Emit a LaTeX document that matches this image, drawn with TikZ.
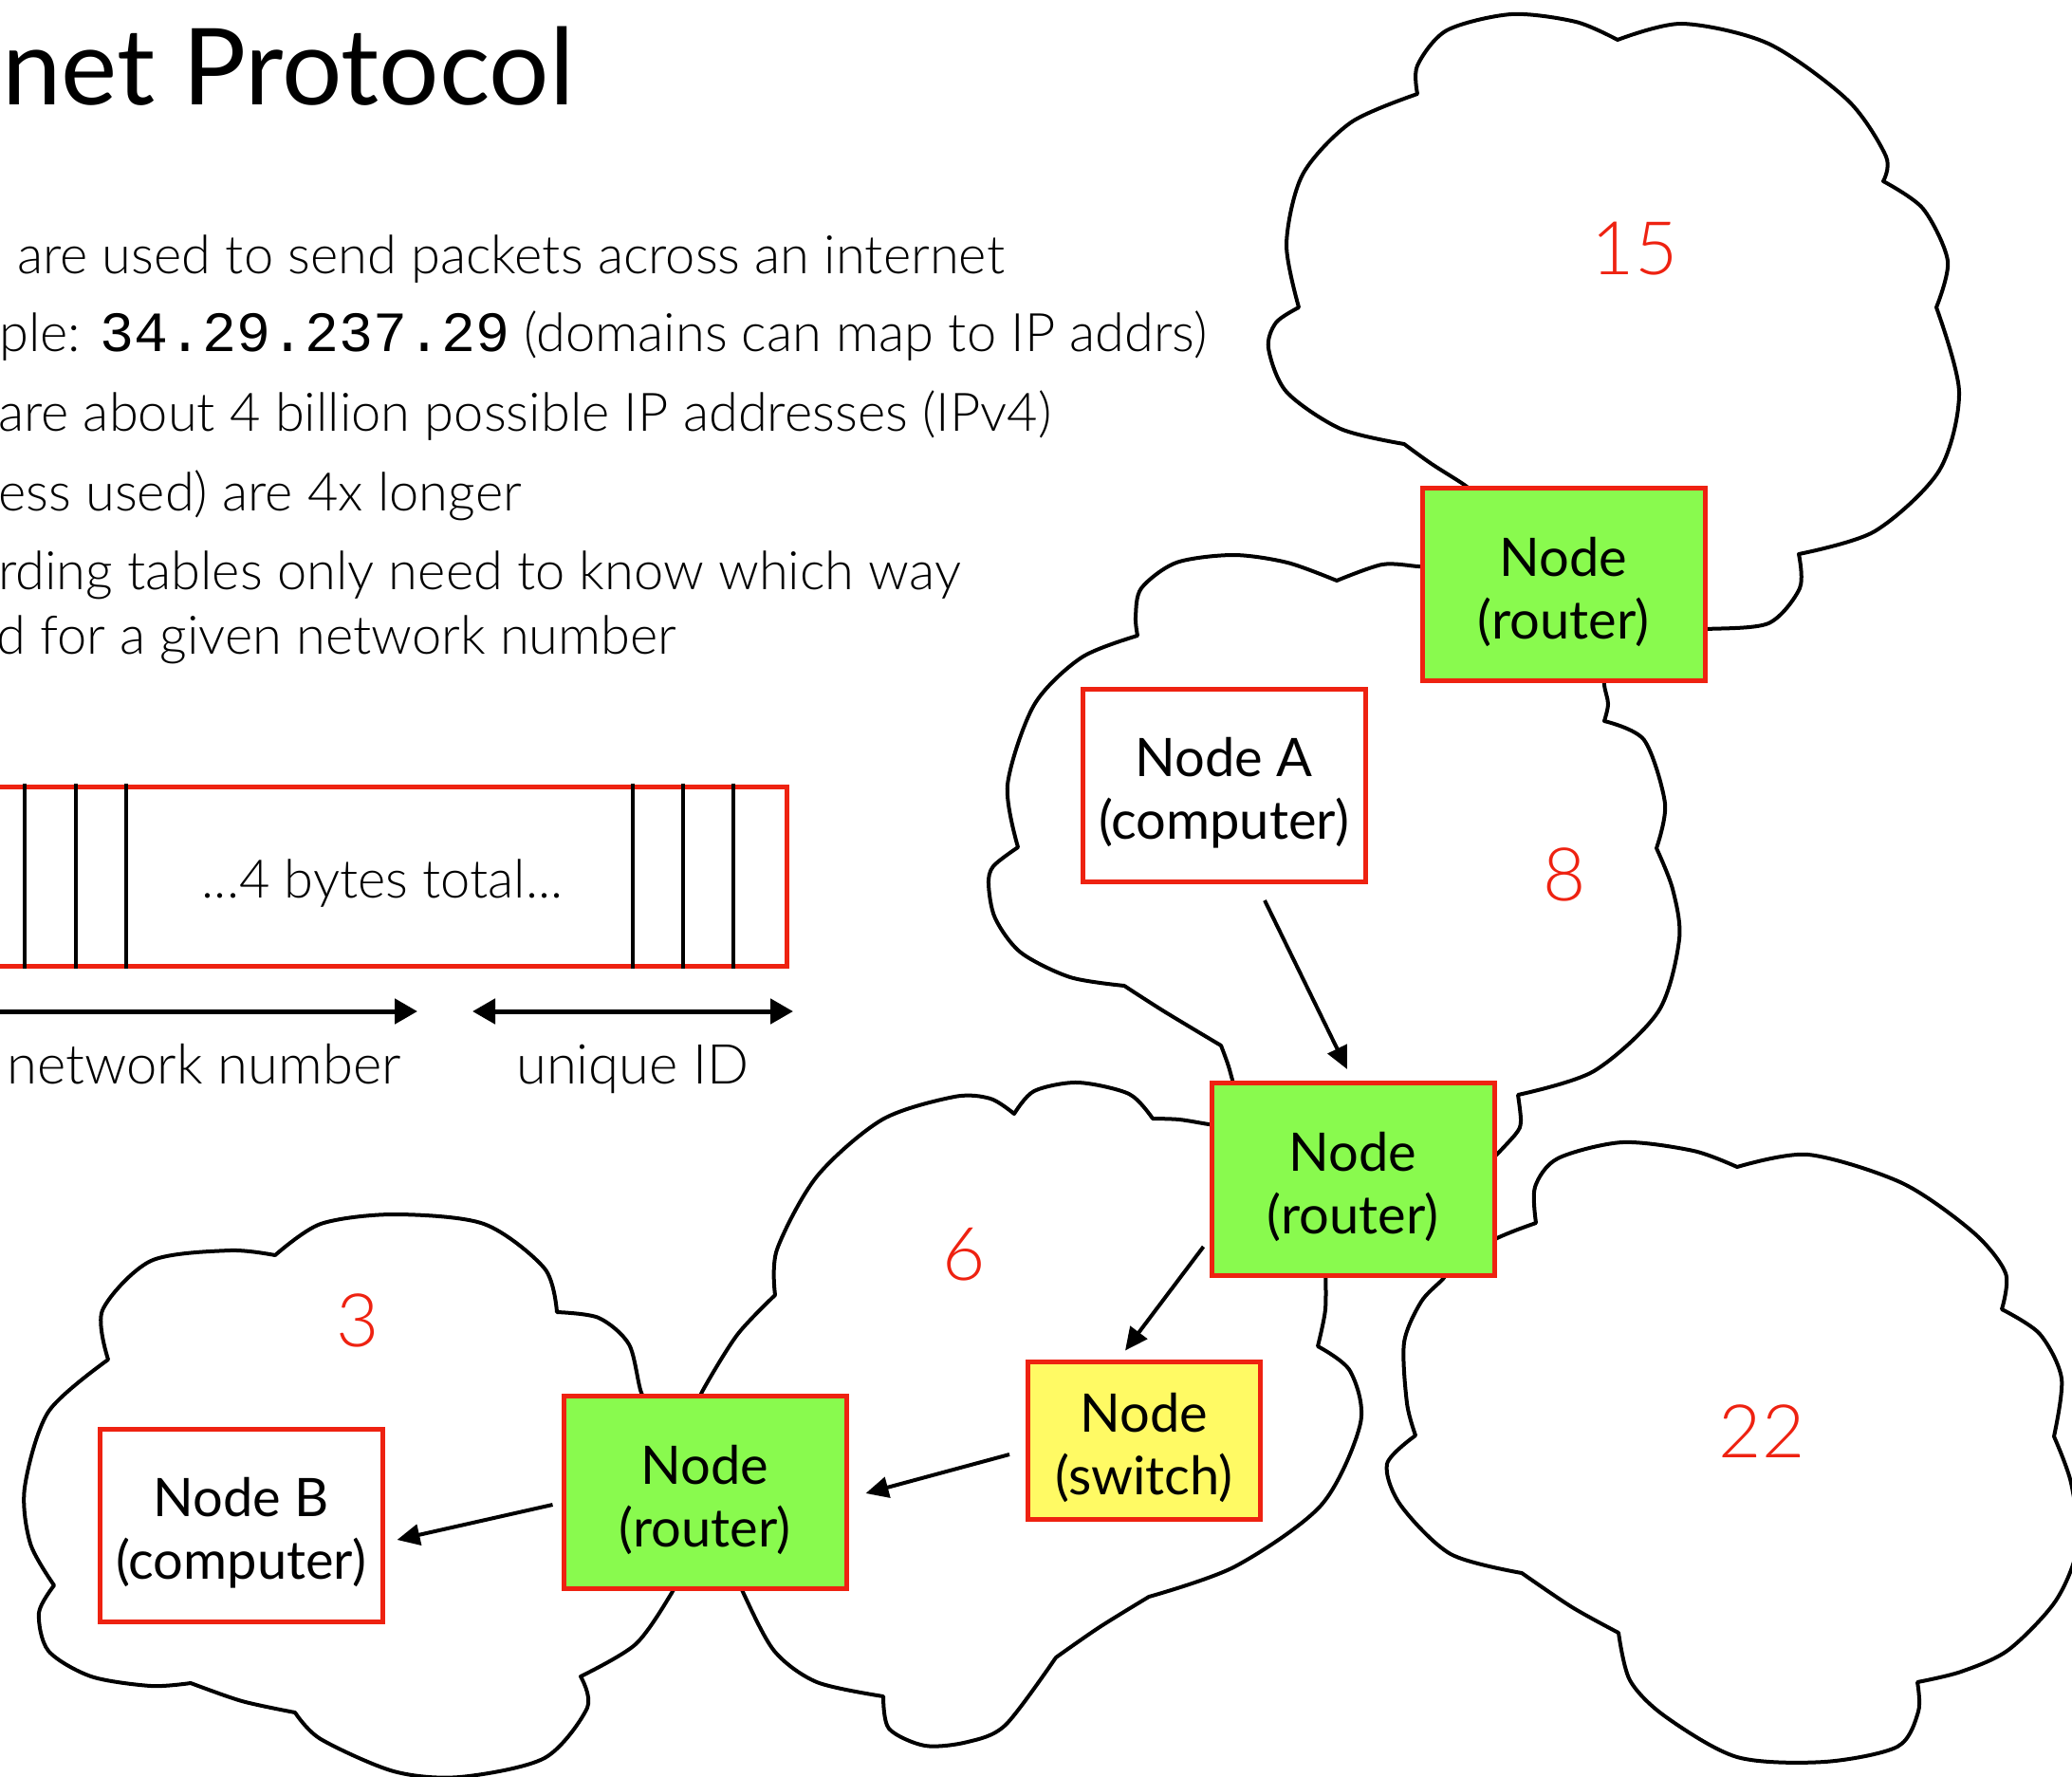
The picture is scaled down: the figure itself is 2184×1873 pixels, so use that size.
\documentclass[tikz,border=0pt]{standalone}
\usepackage{fontspec}
\setmainfont{Lato}
\newfontfamily\lightfont{Lato Light}
\newfontfamily\monofont{Liberation Mono}
\usetikzlibrary{arrows.meta,calc}
\definecolor{ipred}{RGB}{238,34,17}
\definecolor{ipgreen}{RGB}{137,250,78}
\definecolor{ipyellow}{RGB}{255,250,100}
\newcommand\nodesize{\fontsize{56}{66}\selectfont}
\newcommand\bodyfont{\lightfont\fontsize{56}{66}\selectfont}
\newcommand\lblfont{\lightfont\fontsize{58}{66}\selectfont}
\newcommand\toppad{\rule{0pt}{57pt}}
\tikzset{
  box/.style={draw=ipred, line width=5pt, minimum width=298pt, minimum height=203pt, inner sep=0pt, align=center, font=\nodesize},
  router/.style={box, fill=ipgreen},
  host/.style={box, fill=white},
  switchbox/.style={box, fill=ipyellow, minimum width=245pt, minimum height=166pt},
  netnum/.style={text=ipred, font=\lightfont\fontsize{78}{80}\selectfont, inner sep=0pt},
  bodytext/.style={anchor=base west, inner sep=0pt, font=\bodyfont},
  cloudline/.style={draw=black, line width=4pt, line join=round, line cap=round},
  link/.style={draw=black, line width=4pt, -{Triangle[length=24pt,width=22pt]}},
  bytearrow/.style={draw=black, line width=5pt, {Triangle[length=24pt,width=26pt]}-{Triangle[length=24pt,width=26pt]}},
}
\begin{document}
\begin{tikzpicture}[x=1pt,y=-1pt]
\path[use as bounding box, clip] (0,0) rectangle (2184,1873);

% ---------- title and text ----------
\node[anchor=base west, inner sep=0pt, font=\fontsize{112}{116}\selectfont] (title) at (2,111) {net Protocol};
\node[bodytext] (l1) at (18,288) {are used to send packets across an internet};
\node[bodytext] (l2) at (-1,370) {ple: {\monofont\fontsize{60}{66}\selectfont 34.29.237.29} (domains can map to IP addrs)};
\node[bodytext] (l3) at (-2,454) {are about 4 billion possible IP addresses (IPv4)};
\node[bodytext] (l4) at (-2,538) {ess used) are 4x longer};
\node[bodytext] (l5) at (-2,621) {rding tables only need to know which way};
\node[bodytext] (l6) at (-4,689) {d for a given network number};

% ---------- byte layout ----------
\draw[ipred, line width=5pt] (-20,829) rectangle (829,1018);
\foreach \x in {26,80,133,667,720,773} \draw[line width=4pt] (\x,826) -- (\x,1021);
\node[anchor=base, inner sep=0pt, font=\bodyfont] (bytes) at (403,946) {...4 bytes total...};
\coordinate (nnL) at (-60,1066);
\coordinate (nnR) at (440,1066);
\coordinate (uiL) at (498,1066);
\coordinate (uiR) at (836,1066);
\draw[bytearrow] (nnL) -- (nnR);
\draw[bytearrow] (uiL) -- (uiR);
\node[anchor=base east, inner sep=0pt, font=\lblfont] (netlbl) at (423,1142) {network number};
\node[anchor=base, inner sep=0pt, font=\lblfont] (uidlbl) at (667,1142) {unique ID};

% ---------- clouds ----------
% cloud 15
\draw[cloudline]
  plot[smooth] coordinates {(1560,524) (1542,510) (1509,489) (1480,468)}
  -- plot[smooth] coordinates {(1480,468) (1413,452) (1356,413) (1337,367) (1345,340) (1369,324)}
  -- plot[smooth] coordinates {(1369,324) (1356,257) (1373,184) (1424,129) (1494,99)}
  -- plot[smooth] coordinates {(1494,99) (1494,69) (1525,32) (1593,15) (1661,23) (1705,42)}
  -- plot[smooth] coordinates {(1705,42) (1773,25) (1864,46) (1948,106) (1988,165) (1985,191)}
  -- plot[smooth] coordinates {(1985,191) (2027,220) (2053,275) (2041,324)}
  -- plot[smooth] coordinates {(2041,324) (2065,413) (2044,496) (1976,560) (1896,584)}
  -- plot[smooth] coordinates {(1896,584) (1897,620) (1864,657) (1799,663) (1780,663)};
% cloud 8
\draw[cloudline]
  plot[smooth] coordinates {(1520,598) (1495,597) (1457,595) (1409,612)}
  -- plot[smooth] coordinates {(1409,612) (1357,593) (1300,585) (1240,593) (1203,620) (1197,650) (1199,670)}
  -- plot[smooth] coordinates {(1199,670) (1140,693) (1090,743) (1062,827) (1073,893)}
  -- plot[smooth] coordinates {(1073,893) (1047,913) (1042,932) (1049,968) (1076,1004) (1128,1030) (1185,1039)}
  -- plot[smooth] coordinates {(1185,1039) (1227,1066) (1287,1102)}
  -- plot[smooth] coordinates {(1287,1102) (1295,1124) (1302,1150)};
\draw[cloudline]
  plot[smooth] coordinates {(1691,700) (1691,722) (1695,742) (1691,760)}
  -- plot[smooth] coordinates {(1691,760) (1733,780) (1755,847) (1746,894)}
  -- plot[smooth] coordinates {(1746,894) (1763,937) (1770,990) (1748,1066) (1680,1129) (1600,1154)}
  -- plot[smooth] coordinates {(1600,1154) (1603,1182) (1597,1196) (1565,1230)};
% cloud 6
\draw[cloudline]
  plot[smooth] coordinates {(1290,1187) (1274,1185) (1243,1180) (1215,1179)}
  -- plot[smooth] coordinates {(1215,1179) (1190,1153) (1136,1141) (1090,1150) (1069,1174)}
  -- plot[smooth] coordinates {(1069,1174) (1044,1158) (1006,1156) (930,1180) (861,1240) (819,1317) (817,1365)}
  -- plot[smooth] coordinates {(817,1365) (777,1407) (740,1467) (735,1485)};
\draw[cloudline]
  plot[smooth] coordinates {(780,1665) (784,1680) (816,1740) (861,1773) (931,1788)}
  -- plot[smooth] coordinates {(931,1788) (937,1822) (975,1840) (1020,1836) (1060,1818) (1113,1747)}
  -- plot[smooth] coordinates {(1113,1747) (1159,1715) (1211,1683)}
  -- plot[smooth] coordinates {(1211,1683) (1302,1651) (1393,1586) (1434,1500) (1423,1445) (1389,1419)}
  -- plot[smooth] coordinates {(1389,1419) (1397,1380) (1397,1335)};
% cloud 22
\draw[cloudline]
  plot[smooth] coordinates {(1560,1315) (1578,1305) (1597,1297) (1619,1289)}
  -- plot[smooth] coordinates {(1619,1289) (1618,1251) (1642,1221) (1710,1204) (1785,1213) (1831,1230)}
  -- plot[smooth] coordinates {(1831,1230) (1906,1217) (2005,1247) (2080,1299) (2114,1342) (2110,1380)}
  -- plot[smooth] coordinates {(2110,1380) (2150,1406) (2173,1453) (2165,1514)}
  -- plot[smooth] coordinates {(2165,1514) (2183,1563) (2190,1629) (2167,1687) (2117,1739) (2067,1762) (2021,1773)}
  -- plot[smooth] coordinates {(2021,1773) (2022,1804) (2000,1841) (1923,1857) (1831,1852) (1755,1809) (1718,1771) (1706,1721)}
  -- plot[smooth] coordinates {(1706,1721) (1657,1694) (1604,1658)}
  -- plot[smooth] coordinates {(1604,1658) (1529,1638) (1476,1586) (1462,1543) (1492,1513)}
  -- plot[smooth] coordinates {(1492,1513) (1483,1479) (1480,1415) (1498,1372) (1521,1348) (1530,1335)};
% cloud 3
\draw[cloudline]
  plot[smooth] coordinates {(690,1485) (676,1468) (663,1417) (631,1389) (587,1383)}
  -- plot[smooth] coordinates {(587,1383) (574,1337) (510,1290) (415,1280) (338,1290) (290,1323)}
  -- plot[smooth] coordinates {(290,1323) (242,1318) (159,1329) (108,1381) (114,1433)}
  -- plot[smooth] coordinates {(114,1433) (51,1488) (26,1568) (32,1627) (57,1671)}
  -- plot[smooth] coordinates {(57,1671) (41,1700) (51,1740) (96,1767) (159,1777) (201,1774)}
  -- plot[smooth] coordinates {(201,1774) (255,1793) (311,1805)}
  -- plot[smooth] coordinates {(311,1805) (338,1833) (415,1867) (485,1873) (574,1853) (619,1800) (612,1767)}
  -- plot[smooth] coordinates {(612,1767) (670,1733) (708,1679) (712,1665)};

% ---------- network numbers ----------
\node[netnum] (n15) at (1723,262) {15};
\node[netnum] (n8) at (1649,922) {8};
\node[netnum] (n6) at (1016,1322) {6};
\node[netnum] (n3) at (377,1392) {3};
\node[netnum] (n22) at (1857,1509) {22};

% ---------- nodes ----------
\node[router] (r1) at (1648,616) {\toppad Node\\(router)};
\node[host] (nA) at (1290,828) {\toppad Node A\\(computer)};
\node[router] (r2) at (1426,1243) {\toppad Node\\(router)};
\node[switchbox] (sw) at (1206,1518) {\toppad Node\\(switch)};
\node[router] (r3) at (743,1573) {\toppad Node\\(router)};
\node[host] (nB) at (254,1608) {\toppad Node B\\(computer)};

% ---------- connectors ----------
\draw[link] ($(nA.south)+(43,17)$) -- ($(r2.north)+(-6,-12)$);
\draw[link] ($(r2.west)+(-6,71)$) -- ($(sw.north)+(-20,-9)$);
\draw[link] ($(sw.west)+(-17,15)$) -- ($(r3.east)+(18,1)$);
\draw[link] ($(r3.west)+(-9,13)$) -- ($(nB.east)+(13,15)$);
\end{tikzpicture}
\end{document}
